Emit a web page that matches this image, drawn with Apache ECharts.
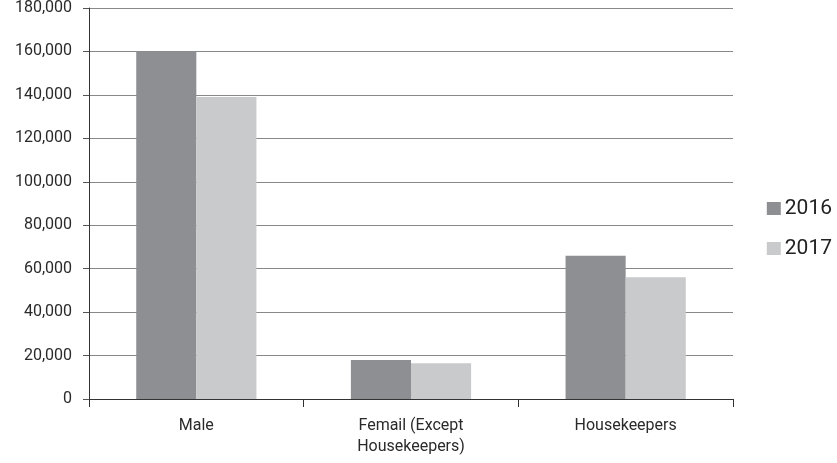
<!DOCTYPE html>
<html>
<head>
<meta charset="utf-8">
<script src="https://cdn.jsdelivr.net/npm/echarts@6/dist/echarts.min.js"></script>
<style>html,body{margin:0;padding:0;background:#fff}#c{width:837px;height:463px}</style>
</head>
<body>
<div id="c"></div>
<script>
var categories = ['Male', 'Femail (Except\nHousekeepers)', 'Housekeepers'];
var series2016 = [160000, 18000, 66000];
var series2017 = [139000, 16500, 56000];
var seriesNames = ['2016', '2017'];

var chart = echarts.init(document.getElementById('c'), null, {renderer: 'canvas'});
var font = 'Roboto, "Noto Sans", sans-serif';
chart.setOption({
  animation: false,
  grid: {left: 89, right: 104, top: 8, bottom: 64, containLabel: false},
  legend: {
    orient: 'vertical', right: 0, top: 193,
    itemWidth: 14, itemHeight: 13, itemGap: 19,
    icon: 'rect',
    textStyle: {fontFamily: font, fontSize: 21, color: '#222', padding: [0,0,0,-1], lineHeight: 20},
    data: seriesNames
  },
  xAxis: {
    type: 'category', data: categories,
    axisLine: {lineStyle: {color: '#333', width: 1}},
    axisTick: {show: true, length: 8, alignWithLabel: false, lineStyle: {color: '#333'}},
    axisLabel: {fontFamily: font, fontSize: 16, color: '#2a2a2a', margin: 16, lineHeight: 21}
  },
  yAxis: {
    type: 'value', min: 0, max: 180000, interval: 20000,
    axisLine: {show: true, lineStyle: {color: '#333', width: 1}},
    axisTick: {show: true, length: 6, lineStyle: {color: '#555'}},
    splitLine: {lineStyle: {color: '#888', width: 1}},
    axisLabel: {fontFamily: font, fontSize: 16, color: '#2a2a2a', margin: 17,
      formatter: function (v) { return String(v).replace(/\B(?=(\d{3})+(?!\d))/g, ','); }}
  },
  series: [
    {name: seriesNames[0], type: 'bar', data: series2016, barGap: '0%', barCategoryGap: '44%',
     itemStyle: {color: '#8e8f93'}},
    {name: seriesNames[1], type: 'bar', data: series2017, barGap: '0%', barCategoryGap: '44%',
     itemStyle: {color: '#c9cacc'}}
  ]
});
</script>
</body>
</html>
